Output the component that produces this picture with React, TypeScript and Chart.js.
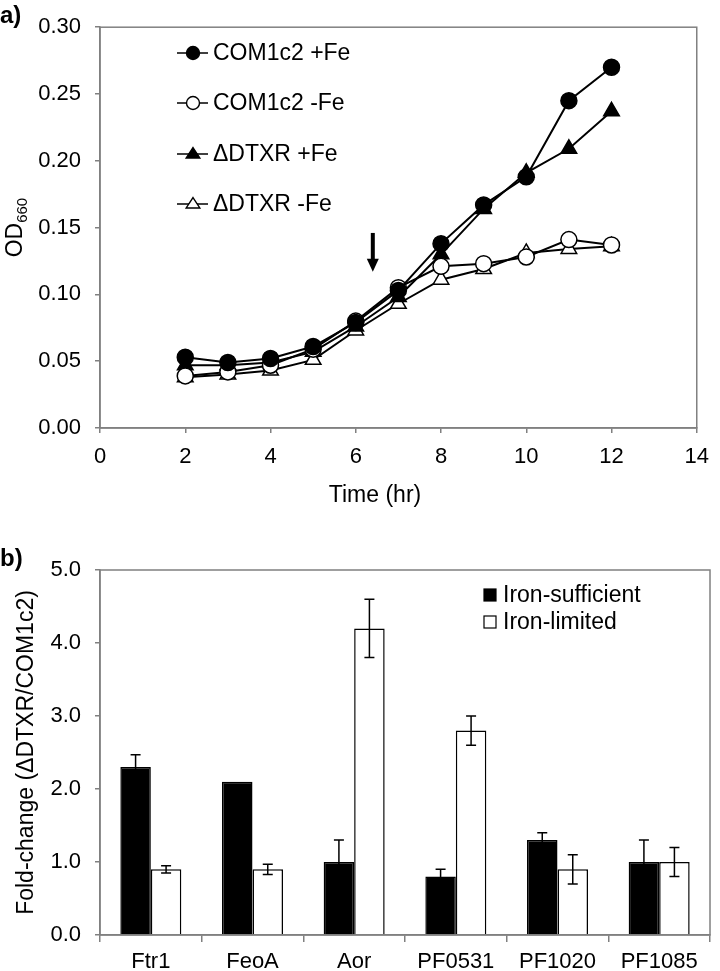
import React, { useEffect, useRef } from "react";
import { Chart, registerables } from "chart.js";

Chart.register(...registerables);

// ---------- Panel a) data ----------
const times = [2, 3, 4, 5, 6, 7, 8, 9, 10, 11, 12];
const com1c2PlusFe = [0.053, 0.049, 0.052, 0.061, 0.079, 0.103, 0.138, 0.167, 0.188, 0.245, 0.27];
const com1c2MinusFe = [0.039, 0.042, 0.047, 0.059, 0.08, 0.105, 0.121, 0.123, 0.128, 0.141, 0.137];
const dtxrPlusFe = [0.047, 0.047, 0.049, 0.057, 0.076, 0.098, 0.13, 0.164, 0.191, 0.209, 0.237];
const dtxrMinusFe = [0.038, 0.04, 0.043, 0.051, 0.073, 0.093, 0.111, 0.119, 0.131, 0.134, 0.136];
const lineLabels = ["COM1c2 +Fe", "COM1c2 -Fe", "\u0394DTXR +Fe", "\u0394DTXR -Fe"];
const arrowTime = 6.4;
const arrowTopValue = 0.146;
const arrowTipValue = 0.117;

// ---------- Panel b) data ----------
const genes = ["Ftr1", "FeoA", "Aor", "PF0531", "PF1020", "PF1085"];
const ironSufficient = [2.3, 2.1, 1.0, 0.8, 1.3, 1.0];
const ironSufficientErr = [0.17, 0, 0.3, 0.1, 0.1, 0.3];
const ironLimited = [0.9, 0.9, 4.2, 2.8, 0.9, 1.0];
const ironLimitedErr = [0.05, 0.07, 0.4, 0.2, 0.2, 0.2];
const barLabels = ["Iron-sufficient", "Iron-limited"];

const FONT = "'Liberation Sans', Arial, Helvetica, sans-serif";
const FRAME = "#808080";
const TOP_H = 520;
const BOT_H = 971 - TOP_H;

Chart.defaults.font.family = FONT;
Chart.defaults.color = "#000";

function drawMarker(ctx: CanvasRenderingContext2D, style: string, filled: boolean, x: number, y: number, r: number) {
  ctx.beginPath();
  if (style === "circle") {
    ctx.arc(x, y, r, 0, Math.PI * 2);
  } else {
    const h = r * 1.6;
    ctx.moveTo(x, y - h * 0.62);
    ctx.lineTo(x + r * 1.05, y + h * 0.38);
    ctx.lineTo(x - r * 1.05, y + h * 0.38);
    ctx.closePath();
  }
  ctx.fillStyle = filled ? "#000" : "#fff";
  ctx.fill();
  ctx.lineWidth = 1.4;
  ctx.strokeStyle = "#000";
  ctx.stroke();
}

const topDecor = {
  id: "topDecor",
  afterDraw(chart: any) {
    const { ctx, chartArea: a, scales } = chart;
    ctx.save();
    // frame
    ctx.strokeStyle = FRAME;
    ctx.lineWidth = 1.5;
    ctx.strokeRect(a.left, a.top, a.right - a.left, a.bottom - a.top);

    // arrow
    const ax = scales.x.getPixelForValue(arrowTime);
    const ay0 = scales.y.getPixelForValue(arrowTopValue);
    const ay1 = scales.y.getPixelForValue(arrowTipValue);
    ctx.strokeStyle = "#000";
    ctx.fillStyle = "#000";
    ctx.lineWidth = 4;
    ctx.beginPath();
    ctx.moveTo(ax, ay0);
    ctx.lineTo(ax, ay1 - 10);
    ctx.stroke();
    ctx.beginPath();
    ctx.moveTo(ax - 6, ay1 - 13);
    ctx.lineTo(ax + 6, ay1 - 13);
    ctx.lineTo(ax, ay1);
    ctx.closePath();
    ctx.fill();

    // legend
    const rows = [53, 103, 154, 204];
    const styles = [
      ["circle", true],
      ["circle", false],
      ["triangle", true],
      ["triangle", false],
    ];
    ctx.font = `23px ${FONT}`;
    ctx.textBaseline = "middle";
    ctx.textAlign = "left";
    rows.forEach((ry, i) => {
      ctx.strokeStyle = "#000";
      ctx.lineWidth = 1.5;
      ctx.beginPath();
      ctx.moveTo(177, ry);
      ctx.lineTo(208, ry);
      ctx.stroke();
      drawMarker(ctx, styles[i][0] as string, styles[i][1] as boolean, 193, ry, 6.5);
      ctx.fillStyle = "#000";
      ctx.fillText(lineLabels[i], 213, ry + 1);
    });

    // x title
    ctx.fillStyle = "#000";
    ctx.textBaseline = "alphabetic";
    ctx.textAlign = "center";
    ctx.font = `23px ${FONT}`;
    ctx.fillText("Time (hr)", 375, 502);

    // y title OD660
    ctx.save();
    const cy = (a.top + a.bottom) / 2;
    ctx.translate(0, cy);
    ctx.rotate(-Math.PI / 2);
    ctx.textAlign = "left";
    ctx.font = `23px ${FONT}`;
    const wOD = ctx.measureText("OD").width;
    ctx.font = `15px ${FONT}`;
    const wSub = ctx.measureText("660").width;
    const start = -(wOD + wSub) / 2;
    ctx.font = `23px ${FONT}`;
    ctx.fillText("OD", start, 22);
    ctx.font = `15px ${FONT}`;
    ctx.fillText("660", start + wOD, 27);
    ctx.restore();

    // panel label
    ctx.font = `bold 24px ${FONT}`;
    ctx.textAlign = "left";
    ctx.fillText("a)", 0, 23);
    ctx.restore();
  },
};

const bottomDecor = {
  id: "bottomDecor",
  afterDatasetsDraw(chart: any) {
    const { ctx, scales } = chart;
    const vals = [ironSufficient, ironLimited];
    const errs = [ironSufficientErr, ironLimitedErr];
    ctx.save();
    ctx.strokeStyle = "#000";
    ctx.lineWidth = 1.5;
    for (let d = 0; d < 2; d++) {
      const meta = chart.getDatasetMeta(d);
      meta.data.forEach((bar: any, j: number) => {
        const e = errs[d][j];
        if (!e) return;
        const x = bar.x;
        const yt = scales.y.getPixelForValue(vals[d][j] + e);
        const yb = scales.y.getPixelForValue(vals[d][j] - e);
        ctx.beginPath();
        ctx.moveTo(x, yt);
        ctx.lineTo(x, yb);
        ctx.moveTo(x - 5, yt);
        ctx.lineTo(x + 5, yt);
        ctx.moveTo(x - 5, yb);
        ctx.lineTo(x + 5, yb);
        ctx.stroke();
      });
    }
    ctx.restore();
  },
  afterDraw(chart: any) {
    const { ctx, chartArea: a } = chart;
    ctx.save();
    ctx.strokeStyle = FRAME;
    ctx.lineWidth = 1.5;
    ctx.strokeRect(a.left, a.top, a.right - a.left, a.bottom - a.top);

    // legend
    const rows = [a.top + 25, a.top + 52];
    ctx.font = `23px ${FONT}`;
    ctx.textBaseline = "middle";
    ctx.textAlign = "left";
    rows.forEach((ry, i) => {
      ctx.fillStyle = i === 0 ? "#000" : "#fff";
      ctx.fillRect(484, ry - 6, 12, 12);
      ctx.strokeStyle = "#000";
      ctx.lineWidth = 1.2;
      ctx.strokeRect(484, ry - 6, 12, 12);
      ctx.fillStyle = "#000";
      ctx.fillText(barLabels[i], 503, ry + 1);
    });

    // y title
    ctx.save();
    const cy = (a.top + a.bottom) / 2;
    ctx.translate(0, cy);
    ctx.rotate(-Math.PI / 2);
    ctx.textAlign = "center";
    ctx.textBaseline = "alphabetic";
    ctx.font = `23px ${FONT}`;
    ctx.fillText("Fold-change (\u0394DTXR/COM1c2)", 0, 33);
    ctx.restore();

    ctx.font = `bold 24px ${FONT}`;
    ctx.textAlign = "left";
    ctx.textBaseline = "alphabetic";
    ctx.fillStyle = "#000";
    ctx.fillText("b)", 0, a.top - 4);
    ctx.restore();
  },
};

function toXY(ys: number[]) {
  return ys.map((y, i) => ({ x: times[i], y }));
}

export default function App() {
  const topRef = useRef<HTMLCanvasElement>(null);
  const botRef = useRef<HTMLCanvasElement>(null);

  useEffect(() => {
    const mk = (data: number[], style: string, filled: boolean, label: string) => ({
      label,
      data: toXY(data),
      borderColor: "#000",
      borderWidth: 2,
      pointStyle: style,
      pointRadius: style === "circle" ? 8 : 9,
      pointBackgroundColor: filled ? "#000" : "#fff",
      pointBorderColor: "#000",
      pointBorderWidth: 1.5,
      tension: 0,
      fill: false,
    });
    const top = new Chart(topRef.current!, {
      type: "line",
      data: {
        datasets: [
          mk(com1c2PlusFe, "circle", true, lineLabels[0]),
          mk(com1c2MinusFe, "circle", false, lineLabels[1]),
          mk(dtxrPlusFe, "triangle", true, lineLabels[2]),
          mk(dtxrMinusFe, "triangle", false, lineLabels[3]),
        ],
      },
      options: {
        responsive: false,
        animation: false,
        devicePixelRatio: 1,
        layout: { padding: { top: 17, right: 12, left: 0, bottom: 0 } },
        plugins: { legend: { display: false }, tooltip: { enabled: false } },
        scales: {
          x: {
            type: "linear",
            min: 0,
            max: 14,
            ticks: { stepSize: 2, font: { size: 22 }, color: "#000", padding: 11 },
            grid: { drawOnChartArea: false, drawTicks: true, tickLength: 5, color: FRAME, lineWidth: 1.5 },
            border: { display: true, color: FRAME, width: 1.5 },
            afterFit: (s: any) => {
              s.height = TOP_H - 428;
            },
          },
          y: {
            min: 0,
            max: 0.3,
            ticks: {
              stepSize: 0.05,
              font: { size: 22 },
              color: "#000",
              padding: 14,
              callback: (v: any) => Number(v).toFixed(2),
            },
            grid: { drawOnChartArea: false, drawTicks: true, tickLength: 5, color: FRAME, lineWidth: 1.5 },
            border: { display: true, color: FRAME, width: 1.5 },
            afterFit: (s: any) => {
              s.width = 100;
            },
          },
        },
      },
      plugins: [topDecor],
    } as any);

    const bot = new Chart(botRef.current!, {
      type: "bar",
      data: {
        labels: genes,
        datasets: [
          {
            label: barLabels[0],
            data: ironSufficient,
            backgroundColor: "#000",
            borderColor: "#000",
            borderWidth: 1.5,
            categoryPercentage: 0.6,
            barPercentage: 1.0,
          },
          {
            label: barLabels[1],
            data: ironLimited,
            backgroundColor: "#fff",
            borderColor: "#000",
            borderWidth: 1.5,
            categoryPercentage: 0.6,
            barPercentage: 1.0,
          },
        ],
      },
      options: {
        responsive: false,
        animation: false,
        devicePixelRatio: 1,
        layout: { padding: { top: 570 - TOP_H, right: 10, left: 0, bottom: 0 } },
        plugins: { legend: { display: false }, tooltip: { enabled: false } },
        scales: {
          x: {
            ticks: { font: { size: 22 }, color: "#000", padding: 7 },
            grid: { offset: true, drawOnChartArea: false, drawTicks: true, tickLength: 7, color: FRAME, lineWidth: 1.5 },
            border: { display: true, color: FRAME, width: 1.5 },
            afterFit: (s: any) => {
              s.height = 971 - 935;
            },
          },
          y: {
            min: 0,
            max: 5,
            ticks: {
              stepSize: 1,
              font: { size: 22 },
              color: "#000",
              padding: 14,
              callback: (v: any) => Number(v).toFixed(1),
            },
            grid: { drawOnChartArea: false, drawTicks: true, tickLength: 5, color: FRAME, lineWidth: 1.5 },
            border: { display: true, color: FRAME, width: 1.5 },
            afterFit: (s: any) => {
              s.width = 100;
            },
          },
        },
      },
      plugins: [bottomDecor],
    } as any);

    return () => {
      top.destroy();
      bot.destroy();
    };
  }, []);

  return (
    <div style={{ position: "absolute", left: 0, top: 0, width: 720, height: 971, background: "#fff" }}>
      <canvas ref={topRef} width={720} height={TOP_H} style={{ display: "block", width: 720, height: TOP_H }} />
      <canvas ref={botRef} width={720} height={BOT_H} style={{ display: "block", width: 720, height: BOT_H }} />
    </div>
  );
}
